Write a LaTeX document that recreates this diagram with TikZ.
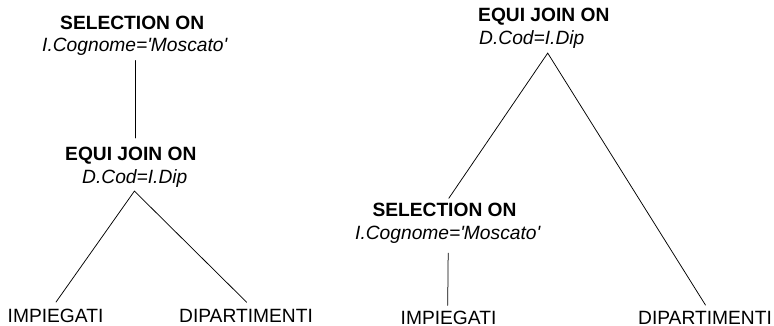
\documentclass[tikz,border=0pt]{standalone}
\usepackage{fontspec}
\setmainfont{Liberation Sans}[Ligatures=TeXOff]
\begin{document}
\begin{tikzpicture}[x=1pt,y=1pt,
  op/.style={align=left, inner sep=0pt, anchor=north west,
             font=\fontsize{19.2}{22.4}\selectfont},
  leaf/.style={inner sep=0pt, anchor=base,
               font=\fontsize{19.2}{22.4}\selectfont},
  edge/.style={line width=0.75pt, line cap=round}]
\fill[white] (0,0) rectangle (774,-326);
\useasboundingbox (0,0) rectangle (774,-326);

% Plan 1: selection applied after the join
\node[op] (selL) at (42,-15.3)
  {\hspace*{18pt}\rule{0pt}{14pt}\textbf{SELECTION ON}\\
   \textit{I.Cognome='Moscato'}\rule[-5pt]{0pt}{5pt}};
\node[op] (joinL) at (65,-146.7)
  {\rule{0pt}{14pt}\textbf{EQUI JOIN ON}\\
   \hspace*{17pt}\textit{D.Cod=I.Dip}\rule[-5pt]{0pt}{5pt}};
\node[leaf] (impL) at (55.5,-322.5) {IMPIEGATI};
\node[leaf] (dipL) at (246,-322.5) {DIPARTIMENTI};

\draw[edge] ([xshift=0.5pt,yshift=-3.3pt]selL.south) -- ([xshift=4.6pt,yshift=8.7pt]joinL.north);
\draw[edge] ([xshift=0.5pt,yshift=6.8pt]impL.north) -- ([xshift=3.6pt,yshift=-2.6pt]joinL.south)
            -- ([xshift=0.7pt,yshift=6.8pt]dipL.north);

% Plan 2: selection pushed down onto IMPIEGATI
\node[op] (joinR) at (478,-7.7)
  {\rule{0pt}{14pt}\textbf{EQUI JOIN ON}\\
   \hspace*{1pt}\textit{D.Cod=I.Dip}\rule[-5pt]{0pt}{5pt}};
\node[op] (selR) at (355,-202.7)
  {\hspace*{17.3pt}\rule{0pt}{14pt}\textbf{SELECTION ON}\\
   \textit{I.Cognome='Moscato'}\rule[-5pt]{0pt}{5pt}};
\node[leaf] (impR) at (448.5,-324.3) {IMPIEGATI};
\node[leaf] (dipR) at (705,-324.3) {DIPARTIMENTI};

\draw[edge] ([xshift=0.8pt,yshift=4.4pt]selR.north) -- ([xshift=3.9pt,yshift=-3.6pt]joinR.south)
            -- ([xshift=0.5pt,yshift=5.8pt]dipR.north);
\draw[edge] ([xshift=0.2pt,yshift=-8.6pt]selR.south) -- ([xshift=-0.8pt,yshift=5.3pt]impR.north);
\end{tikzpicture}
\end{document}
